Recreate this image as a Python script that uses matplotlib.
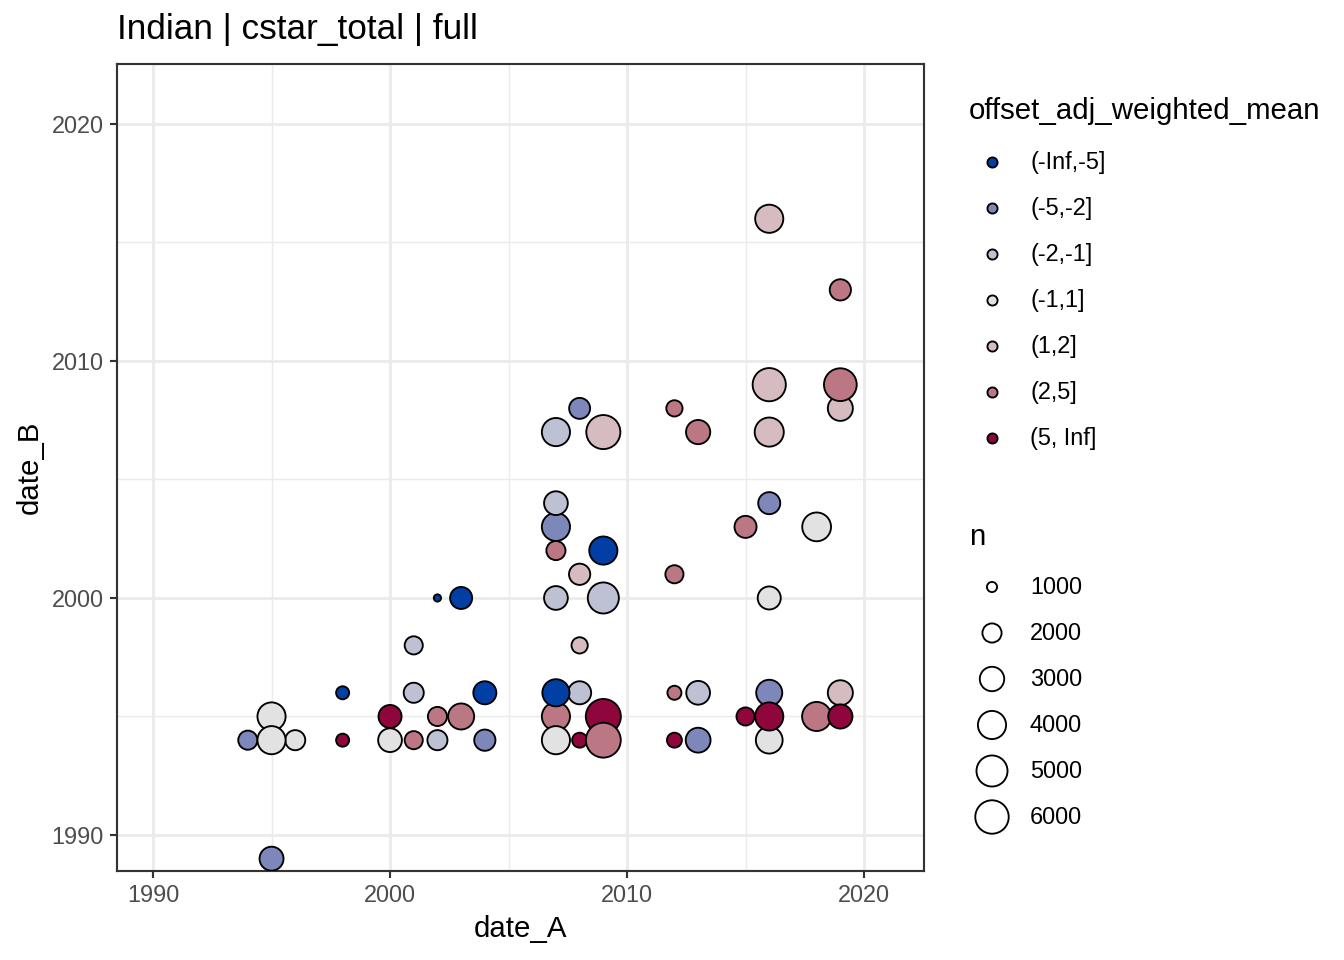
import numpy as np
import matplotlib
matplotlib.use("Agg")
import matplotlib.pyplot as plt

plt.rcParams['font.family'] = ['Liberation Sans', 'DejaVu Sans']

# ---- data ----
categories = ["(-Inf,-5]", "(-5,-2]", "(-2,-1]", "(-1,1]", "(1,2]", "(2,5]", "(5, Inf]"]
cat_colors = ["#023FA5", "#7D87B9", "#BEC1D4", "#E2E2E2", "#D6BCC0", "#BB7784", "#8E063B"]

date_A = [1995, 1995, 1994, 1996, 1995, 1998, 1998, 2000, 2000, 2001, 2001, 2001,
          2002, 2002, 2002, 2003, 2003, 2004, 2004,
          2007, 2008, 2007, 2007, 2008, 2007, 2007, 2007, 2007, 2007, 2008, 2008, 2008,
          2009, 2009, 2009, 2009, 2009,
          2012, 2012, 2012, 2012, 2013, 2013, 2013,
          2015, 2016, 2016, 2015, 2016, 2016, 2016, 2016, 2016,
          2018, 2019, 2019, 2018, 2019, 2019, 2019, 2016]
date_B = [1989, 1995, 1994, 1994, 1994, 1994, 1996, 1994, 1995, 1994, 1996, 1998,
          1994, 1995, 2000, 1995, 2000, 1994, 1996,
          1995, 1996, 1996, 1994, 1994, 2000, 2002, 2003, 2004, 2007, 1998, 2001, 2008,
          1995, 1994, 2000, 2002, 2007,
          1994, 1996, 2001, 2008, 1994, 1996, 2007,
          1995, 1996, 1994, 2003, 1995, 2000, 2004, 2007, 2009,
          1995, 1996, 1995, 2003, 2008, 2009, 2013, 2016]
offset_cat = [1, 3, 1, 3, 3, 6, 0, 3, 6, 5, 2, 2,
              2, 5, 0, 5, 0, 1, 0,
              5, 2, 0, 3, 6, 2, 5, 1, 2, 2, 4, 4, 1,
              6, 5, 2, 0, 4,
              6, 5, 5, 5, 1, 2, 5,
              6, 1, 3, 5, 6, 3, 1, 4, 4,
              5, 4, 6, 3, 4, 5, 5, 4]
n = [2900, 4000, 2000, 2150, 4000, 1250, 1250, 2850, 2700, 1850, 2150, 1850,
     2150, 2000, 800, 3400, 2500, 2350, 2700,
     4000, 2700, 3700, 4000, 1450, 2850, 2000, 4000, 2850, 4000, 1600, 2350, 2300,
     6800, 6700, 5000, 4000, 6300,
     1450, 1350, 1850, 1600, 3100, 2850, 2950,
     1850, 3400, 3600, 2500, 4000, 2700, 2500, 4300, 5900,
     4300, 3150, 2950, 4200, 3150, 5700, 2350, 4000]

legend_n = [1000, 2000, 3000, 4000, 5000, 6000]

DPI = 192
PX = 72.0 / DPI          # points per pixel
EDGE_LW = 0.7


def size_px(v):
    v = np.asarray(v, dtype=float)
    return 12.0 + 13.0 * np.log(v / 1000.0)


def marker_area(v):
    d_pt = size_px(v) * PX - EDGE_LW
    return d_pt ** 2


fig = plt.figure(figsize=(1344 / DPI, 960 / DPI), dpi=DPI)
ax = fig.add_axes([117 / 1344, (960 - 871) / 960, (924 - 117) / 1344, (871 - 64) / 960])

lim = (1988.48, 2022.53)
ax.set_xlim(lim)
ax.set_ylim(lim)

# grid
for v in [1995, 2005, 2015]:
    ax.axvline(v, color="#EBEBEB", lw=0.53, zorder=0)
    ax.axhline(v, color="#EBEBEB", lw=0.53, zorder=0)
for v in [1990, 2000, 2010, 2020]:
    ax.axvline(v, color="#EBEBEB", lw=1.07, zorder=0)
    ax.axhline(v, color="#EBEBEB", lw=1.07, zorder=0)

cols = [cat_colors[c] for c in offset_cat]
ax.scatter(date_A, date_B, s=marker_area(n), c=cols, edgecolors="black",
           linewidths=EDGE_LW, zorder=3)

ticks = [1990, 2000, 2010, 2020]
ax.set_xticks(ticks)
ax.set_yticks(ticks)
ax.set_xticklabels([str(t) for t in ticks])
ax.set_yticklabels([str(t) for t in ticks])
ax.tick_params(axis="both", colors="#333333", width=0.8, length=2.75,
               labelsize=8.8, labelcolor="#4D4D4D", pad=2.2)
for sp in ax.spines.values():
    sp.set_color("#333333")
    sp.set_linewidth(0.8)

ax.set_xlabel("date_A", fontsize=11, labelpad=3)
ax.set_ylabel("date_B", fontsize=11, labelpad=3)

fig.text(117 / 1344, 1 - 30 / 960, "Indian | cstar_total | full", fontsize=13.2,
         ha="left", va="center")

# ---- legends (drawn in pixel space of the figure) ----
lg = fig.add_axes([0, 0, 1, 1], facecolor="none")
lg.set_xlim(0, 1344)
lg.set_ylim(960, 0)
lg.axis("off")

lg.text(969, 111, "offset_adj_weighted_mean", fontsize=11, ha="left", va="center")
key_y0 = 162
for i, (lab, col) in enumerate(zip(categories, cat_colors)):
    yy = key_y0 + i * 46
    lg.scatter([992], [yy], s=marker_area([1000]), c=[col], edgecolors="black",
               linewidths=EDGE_LW)
    lg.text(1030, yy, lab, fontsize=8.8, ha="left", va="center")

lg.text(969, 537, "n", fontsize=11, ha="left", va="center")
size_y0 = 587
for i, v in enumerate(legend_n):
    yy = size_y0 + i * 46
    lg.scatter([992], [yy], s=marker_area([v]), facecolors="none", edgecolors="black",
               linewidths=EDGE_LW)
    lg.text(1030, yy, str(v), fontsize=8.8, ha="left", va="center")

fig.savefig("out.png", dpi=DPI)
